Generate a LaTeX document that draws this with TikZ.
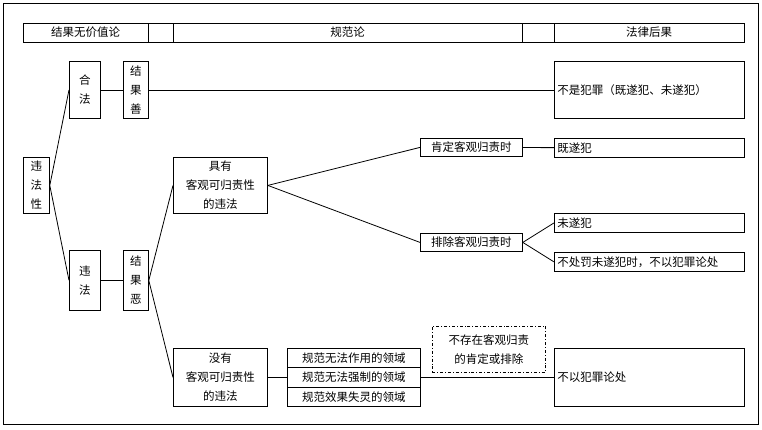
\documentclass[tikz,border=0pt]{standalone}
\usepackage{fontspec}
\setmainfont{Noto Sans CJK SC}
\begin{document}
\begin{tikzpicture}[x=1pt,y=-1pt,
 bx/.style={draw,line width=0.8pt,font=\fontsize{11.5}{19}\selectfont,inner sep=0pt,align=center},
 lb/.style={bx,align=left,text width=184,inner xsep=3pt},
 ln/.style={line width=0.8pt}]
\useasboundingbox (0,0) rectangle (762,429);
\draw[ln] (3,3) rectangle (758,424);
% header
\draw[ln] (23,23) rectangle (744,42);
\foreach \x in {148,173,522,554} \draw[ln] (\x,23)--(\x,42);
\node[font=\fontsize{11.5}{12}\selectfont] at (85.5,32.5) {结果无价值论};
\node[font=\fontsize{11.5}{12}\selectfont] at (347.5,32.5) {规范论};
\node[font=\fontsize{11.5}{12}\selectfont] at (649,32.5) {法律后果};
\newcommand{\bb}[7][bx]{\node[#1,minimum width=#5-#3,minimum height=#6-#4,anchor=north west] (#2) at (#3,#4) {#7};}
\bb{wf}{23}{157}{49}{213}{违\\法\\性}
\bb{hf}{69}{61}{100}{118}{合\\法}
\bb{js}{123}{61}{148}{118}{结\\果\\善}
\bb{wff}{69}{250}{100}{310}{违\\法}
\bb{je}{123}{250}{148}{310}{结\\果\\恶}
\bb{jy}{173}{157}{267}{213}{具有\\客观可归责性\\的违法}
\bb{my}{173}{348}{267}{406}{没有\\客观可归责性\\的违法}
\bb{kd}{420}{138}{522}{156}{肯定客观归责时}
\bb{pc}{420}{233}{522}{251}{排除客观归责时}
\bb[lb]{bs}{554}{61}{744}{118}{不是犯罪（既遂犯、未遂犯）}
\bb[lb]{jsf}{554}{138}{744}{157}{既遂犯}
\bb[lb]{wsf}{554}{213}{744}{232}{未遂犯}
\bb[lb]{bcf}{554}{252}{744}{271}{不处罚未遂犯时，不以犯罪论处}
\bb[lb]{byf}{554}{348}{744}{406}{不以犯罪论处}
\bb{g1}{287}{348}{420}{367}{规范无法作用的领域}
\bb{g2}{287}{367}{420}{387}{规范无法强制的领域}
\bb{g3}{287}{387}{420}{406}{规范效果失灵的领域}
\node[bx,dash dot,minimum width=113,minimum height=46,anchor=north west] (ds) at (432,326) {不存在客观归责\\的肯定或排除};
\draw[ln] (wf.east)--(hf.west);
\draw[ln] (wf.east)--(wff.west);
\draw[ln] (hf)--(js);
\draw[ln] (js)--(bs);
\draw[ln] (wff)--(je);
\draw[ln] (je.east)--(jy.west);
\draw[ln] (je.east)--(my.west);
\draw[ln] (jy.east)--(kd.west);
\draw[ln] (jy.east)--(pc.west);
\draw[ln] (kd)--(jsf);
\draw[ln] (pc.east)--(wsf.west);
\draw[ln] (pc.east)--(bcf.west);
\draw[ln] (my.east)--(g2.west);
\draw[ln] (g2.east)--(byf.west);
\end{tikzpicture}
\end{document}
